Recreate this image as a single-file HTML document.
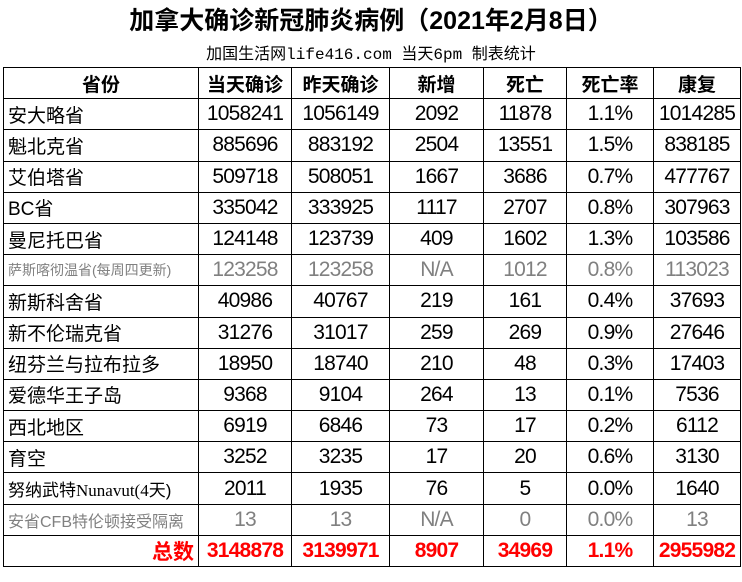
<!DOCTYPE html>
<html><head><meta charset="utf-8"><style>
body{margin:0;width:742px;height:582px;background:#fff;position:relative;overflow:hidden;font-family:"Liberation Sans","Noto Sans CJK SC",sans-serif}
.t{position:absolute;left:0;width:742px;text-align:center;top:1px;font-size:25px;font-weight:bold;color:#000}
.s{position:absolute;left:0;width:742px;text-align:center;top:40px;font-size:16px;font-family:"Liberation Mono","Noto Sans CJK SC",monospace;color:#000}
table{position:absolute;left:3px;top:67px;border-collapse:collapse;table-layout:fixed}
tr{height:31.2px}
td{border:1.5px solid #000;height:29.7px;box-sizing:border-box;padding:0;text-align:center;font-size:21px;letter-spacing:-0.8px;white-space:nowrap;overflow:hidden}
td.p{text-align:left;padding-left:4px;font-size:19px;letter-spacing:0}
tr.h td{font-weight:bold;font-size:19px;letter-spacing:0}
tr.g td{color:#808080}
tr.r td{color:#f00;font-weight:bold}
</style></head><body>
<div class="t">加拿大确诊新冠肺炎病例（2021年2月8日）</div>
<div class="s">加国生活网life416.com 当天6pm 制表统计</div>
<table>
<colgroup><col style="width:195px"><col style="width:93px"><col style="width:98px"><col style="width:94px"><col style="width:83px"><col style="width:87px"><col style="width:87px"></colgroup>
<tr class="h"><td>省份</td><td>当天确诊</td><td>昨天确诊</td><td>新增</td><td>死亡</td><td>死亡率</td><td>康复</td></tr>
<tr><td class="p">安大略省</td><td>1058241</td><td>1056149</td><td>2092</td><td>11878</td><td>1.1%</td><td>1014285</td></tr>
<tr><td class="p">魁北克省</td><td>885696</td><td>883192</td><td>2504</td><td>13551</td><td>1.5%</td><td>838185</td></tr>
<tr><td class="p">艾伯塔省</td><td>509718</td><td>508051</td><td>1667</td><td>3686</td><td>0.7%</td><td>477767</td></tr>
<tr><td class="p">BC省</td><td>335042</td><td>333925</td><td>1117</td><td>2707</td><td>0.8%</td><td>307963</td></tr>
<tr><td class="p">曼尼托巴省</td><td>124148</td><td>123739</td><td>409</td><td>1602</td><td>1.3%</td><td>103586</td></tr>
<tr class="g"><td class="p" style="font-size:14px">萨斯喀彻温省(每周四更新)</td><td>123258</td><td>123258</td><td>N/A</td><td>1012</td><td>0.8%</td><td>113023</td></tr>
<tr><td class="p">新斯科舍省</td><td>40986</td><td>40767</td><td>219</td><td>161</td><td>0.4%</td><td>37693</td></tr>
<tr><td class="p">新不伦瑞克省</td><td>31276</td><td>31017</td><td>259</td><td>269</td><td>0.9%</td><td>27646</td></tr>
<tr><td class="p">纽芬兰与拉布拉多</td><td>18950</td><td>18740</td><td>210</td><td>48</td><td>0.3%</td><td>17403</td></tr>
<tr><td class="p">爱德华王子岛</td><td>9368</td><td>9104</td><td>264</td><td>13</td><td>0.1%</td><td>7536</td></tr>
<tr><td class="p">西北地区</td><td>6919</td><td>6846</td><td>73</td><td>17</td><td>0.2%</td><td>6112</td></tr>
<tr><td class="p">育空</td><td>3252</td><td>3235</td><td>17</td><td>20</td><td>0.6%</td><td>3130</td></tr>
<tr><td class="p" style="font-size:17px">努纳武特<span style="font-family:'Liberation Serif',serif">Nunavut(4</span>天)</td><td>2011</td><td>1935</td><td>76</td><td>5</td><td>0.0%</td><td>1640</td></tr>
<tr class="g"><td class="p" style="font-size:16px">安省CFB特伦顿接受隔离</td><td>13</td><td>13</td><td>N/A</td><td>0</td><td>0.0%</td><td>13</td></tr>
<tr class="r"><td style="text-align:right;padding-right:4px;letter-spacing:0">总数</td><td>3148878</td><td>3139971</td><td>8907</td><td>34969</td><td>1.1%</td><td>2955982</td></tr>
</table>
</body></html>
